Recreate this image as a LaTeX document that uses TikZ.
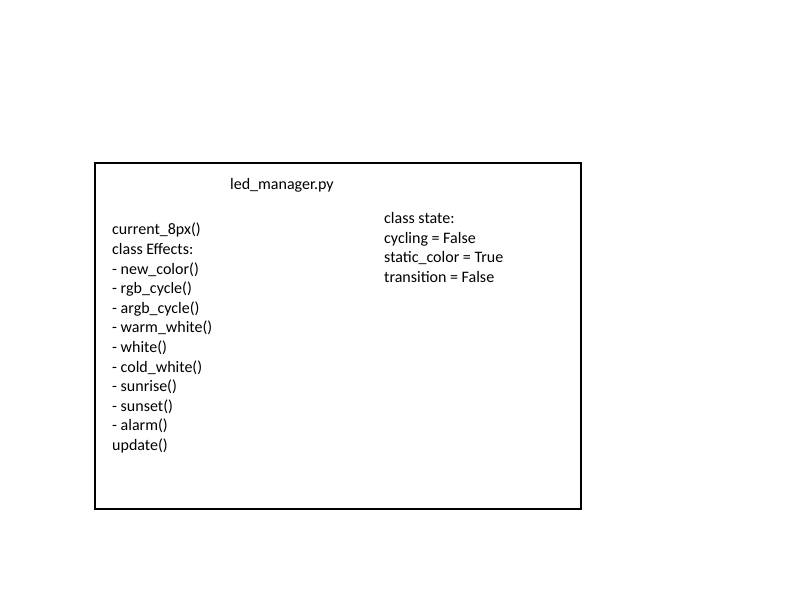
\documentclass[tikz,border=0pt]{standalone}
\usepackage{fontspec}
\setmainfont{Carlito}
\tikzset{
  frame/.style={draw=black, line width=1.5pt},
  txt/.style={inner sep=0pt, align=left, font=\fontsize{16}{19.6}\selectfont, anchor=base west},
}
\begin{document}
\begin{tikzpicture}[x=1pt,y=-1pt]
\useasboundingbox (0,0) rectangle (800,600);
\draw[frame] (95,163) rectangle (581,509);
\node[txt] (title) at (230,189) {led\_manager.py};
\node[txt] (left) at (112,450.5) {current\_8px()\\class Effects:\\- new\_color()\\- rgb\_cycle()\\- argb\_cycle()\\- warm\_white()\\- white()\\- cold\_white()\\- sunrise()\\- sunset()\\- alarm()\\update()};
\node[txt] (right) at (384,282.5) {class state:\\cycling = False\\static\_color = True\\transition = False};
\end{tikzpicture}
\end{document}
